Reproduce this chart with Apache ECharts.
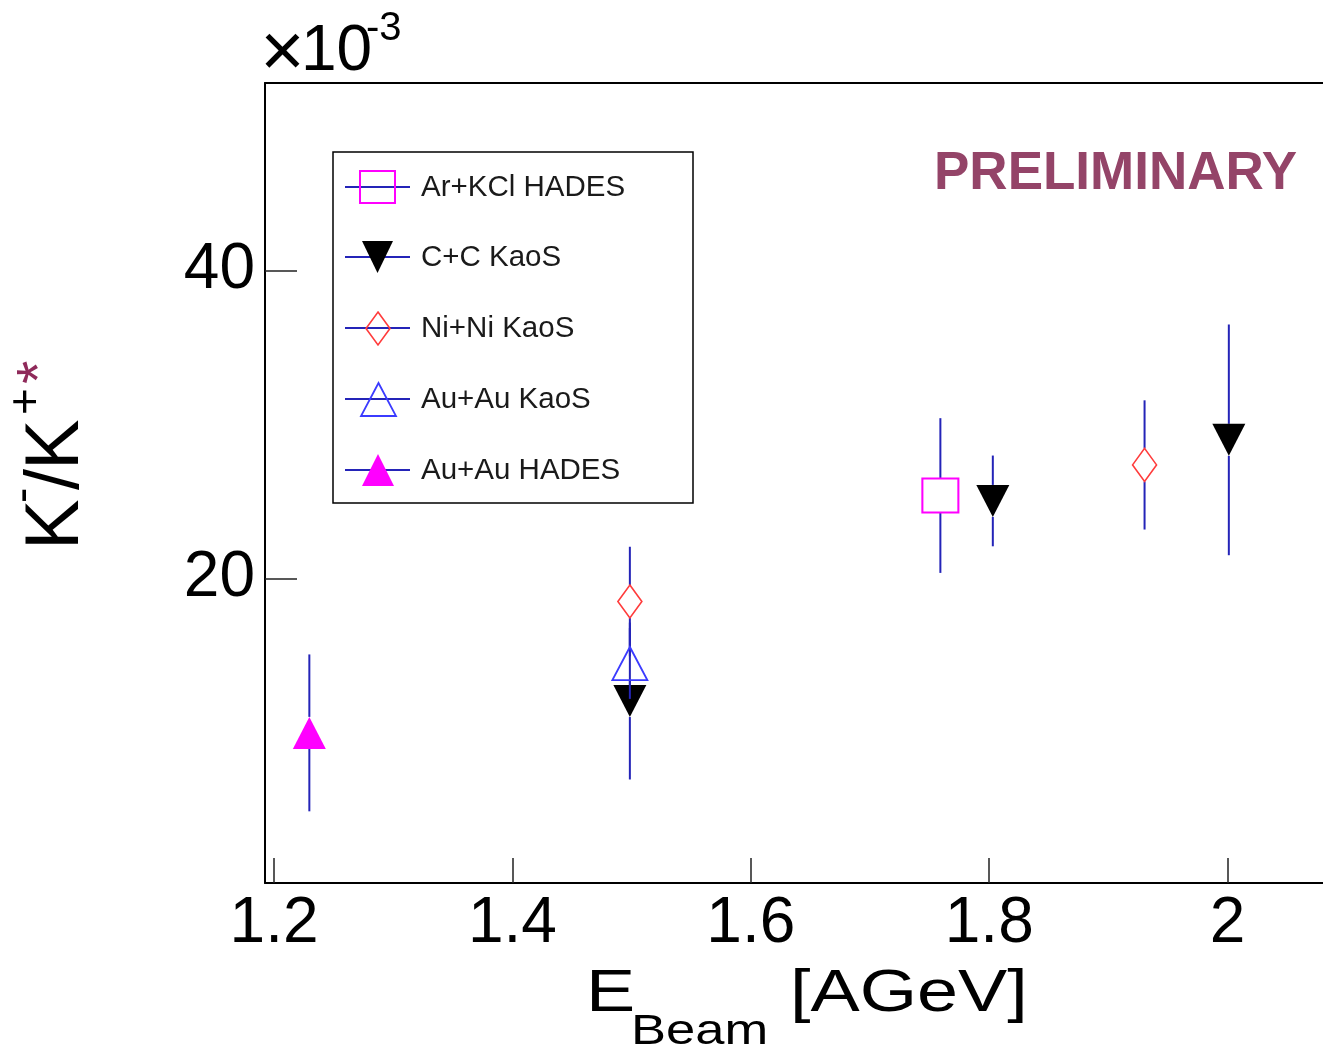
<!DOCTYPE html>
<html><head><meta charset="utf-8">
<script src="https://cdn.jsdelivr.net/npm/echarts@6/dist/echarts.min.js"></script>
<style>html,body{margin:0;padding:0;background:#fff}#c{width:1323px;height:1050px}</style>
</head><body><div id="c"></div>
<script>
// ---- data: [E_beam (AGeV), K-/K+ (x1e-3), error] ----
const seriesNames = ['Ar+KCl HADES', 'C+C KaoS', 'Ni+Ni KaoS', 'Au+Au KaoS', 'Au+Au HADES'];
const arKclHades = [[1.759, 25.38, 5.03]];
const ccKaos     = [[1.4985, 12.02, 5.1], [1.803, 25.03, 2.95], [2.001, 29.0, 7.5]];
const niNiKaos   = [[1.4985, 18.49, 3.56], [1.9303, 27.37, 4.2]];
const auAuKaos   = [[1.4985, 14.46, 2.3]];
const auAuHades  = [[1.2296, 9.95, 5.1]];
const xTickValues = [1.2, 1.4, 1.6, 1.8, 2.0];
const yTickValues = [20, 40];

const FONT = "'Liberation Sans', Arial, Helvetica, sans-serif";
const ERR = '#2424b8';
const X_MIN = 1.1924, X_MAX = 2.0800, Y_MIN = 0.19, Y_MAX = 52.2;

const styles = [
  {data: arKclHades, symbol: 'rect', size: [36, 34], rot: 0, item: {color: 'rgba(0,0,0,0)', borderColor: '#ff00ff', borderWidth: 2, opacity: 1}},
  {data: ccKaos, symbol: 'triangle', size: [33, 32], rot: 180, item: {color: '#000', opacity: 1}},
  {data: niNiKaos, symbol: 'diamond', size: [24, 33], rot: 0, item: {color: 'rgba(0,0,0,0)', borderColor: '#ff3b3b', borderWidth: 1.6, opacity: 1}},
  {data: auAuKaos, symbol: 'triangle', size: [35, 33], rot: 0, item: {color: 'rgba(0,0,0,0)', borderColor: '#3b3bff', borderWidth: 1.8, opacity: 1}},
  {data: auAuHades, symbol: 'triangle', size: [33, 32], rot: 0, item: {color: '#ff00ff', opacity: 1}}
];

const series = [];
styles.forEach((s, i) => {
  const gap = s.size[1] / 2;
  series.push({
    type: 'custom', name: seriesNames[i] + ' err', z: 2 + 2 * i, silent: true,
    data: s.data.map(d => [d[0], d[1], d[1] - d[2], d[1] + d[2]]),
    encode: {x: 0, y: [1, 2, 3]},
    renderItem(params, api) {
      const c = api.coord([api.value(0), api.value(1)]);
      const lo = api.coord([api.value(0), api.value(2)]);
      const hi = api.coord([api.value(0), api.value(3)]);
      return {type: 'group', children: [
        {type: 'line', shape: {x1: c[0], y1: hi[1], x2: c[0], y2: c[1] - gap}, style: {stroke: ERR, lineWidth: 2}},
        {type: 'line', shape: {x1: c[0], y1: c[1] + gap, x2: c[0], y2: lo[1]}, style: {stroke: ERR, lineWidth: 2}}
      ]};
    }
  });
  series.push({
    type: 'scatter', name: seriesNames[i], z: 3 + 2 * i, silent: true,
    data: s.data.map(d => [d[0], d[1]]),
    symbol: s.symbol, symbolSize: s.size, symbolRotate: s.rot,
    itemStyle: s.item,
    emphasis: {disabled: true}
  });
});

// ---- legend (drawn as graphic) ----
const legRowY = [187, 257, 328, 399, 470];
const legMarkers = [
  {type: 'rect', shape: {x: 360, y: 171, width: 35, height: 32}, style: {fill: 'none', stroke: '#ff00ff', lineWidth: 2}},
  {type: 'polygon', shape: {points: [[362, 241], [393, 241], [377.5, 273]]}, style: {fill: '#000'}},
  {type: 'polygon', shape: {points: [[378, 312], [390, 328.5], [378, 345], [366, 328.5]]}, style: {fill: 'none', stroke: '#ff3b3b', lineWidth: 1.6}},
  {type: 'polygon', shape: {points: [[378.5, 383], [396, 416], [361, 416]]}, style: {fill: 'none', stroke: '#3b3bff', lineWidth: 1.8}},
  {type: 'polygon', shape: {points: [[378, 454], [394, 486], [362, 486]]}, style: {fill: '#ff00ff'}}
];
const legendEls = [{type: 'rect', shape: {x: 333, y: 152, width: 360, height: 351}, style: {fill: '#fff', stroke: '#000', lineWidth: 1.5}}];
legRowY.forEach((y, i) => {
  legendEls.push({type: 'line', shape: {x1: 345, y1: y, x2: 410, y2: y}, style: {stroke: ERR, lineWidth: 2}});
  legendEls.push(legMarkers[i]);
  legendEls.push({type: 'text', x: 421, y: y + 1, style: {text: seriesNames[i], font: '29.5px ' + FONT, fill: '#1a1a1a', align: 'left', verticalAlign: 'middle', textAlign: 'left', textVerticalAlign: 'middle'}});
});

function txt(x, y, text, size, opts) {
  opts = opts || {};
  return Object.assign({type: 'text', x: x, y: y, style: {text: text, font: (opts.weight || 'normal') + ' ' + size + 'px ' + FONT, fill: opts.fill || '#000', align: opts.align || 'left', verticalAlign: 'middle', textAlign: opts.align || 'left', textVerticalAlign: 'middle'}}, opts.el || {});
}

const graphic = [
  {type: 'group', children: legendEls, z: 50},
  txt(282.5, 55, '\u00d7', 76, {align: 'center'}),
  txt(301, 52, '10', 64),
  txt(366, 29, '-3', 40),
  txt(934, 174, 'PRELIMINARY', 53, {weight: 'bold', fill: '#944468'}),
  // x title
  txt(586, 995, 'E', 59, {el: {scaleX: 1.25}}),
  txt(631, 1032, 'Beam', 42, {el: {scaleX: 1.25}}),
  txt(790, 995, '[AGeV]', 59, {el: {scaleX: 1.25}}),
  // y title (rotated)
  {type: 'group', x: 57.5, y: 550, rotation: Math.PI / 2, children: [
    txt(0, 0, 'K', 76),
    txt(47, -33, '-', 46),
    txt(60, 0, '/', 76),
    txt(80, 0, 'K', 76),
    txt(135, -30, '+', 46),
    txt(166, -16, '*', 60, {fill: '#8f2a5a'})
  ]}
];

const chart = echarts.init(document.getElementById('c'), null, {renderer: 'canvas'});
chart.setOption({
  animation: false,
  backgroundColor: '#fff',
  grid: {left: 265, top: 83, right: 0, height: 800, containLabel: false},
  xAxis: [{
    type: 'value', min: X_MIN, max: X_MAX, position: 'bottom',
    axisLine: {show: true, onZero: false, lineStyle: {color: '#000', width: 2}},
    axisTick: {show: true, inside: true, length: 25, customValues: xTickValues, lineStyle: {color: '#222', width: 1.5}},
    axisLabel: {show: true, customValues: xTickValues, margin: 9, fontSize: 64, fontFamily: FONT, color: '#000',
      formatter: v => (Math.round(v * 10) / 10).toString()},
    splitLine: {show: false}
  }, {
    type: 'value', min: X_MIN, max: X_MAX, position: 'top',
    axisLine: {show: true, onZero: false, lineStyle: {color: '#000', width: 2}},
    axisTick: {show: false}, axisLabel: {show: false}, splitLine: {show: false}
  }],
  yAxis: [{
    type: 'value', min: Y_MIN, max: Y_MAX,
    axisLine: {show: true, onZero: false, lineStyle: {color: '#000', width: 2}},
    axisTick: {show: true, inside: true, length: 32, customValues: yTickValues, lineStyle: {color: '#222', width: 1.5}},
    axisLabel: {show: true, customValues: yTickValues, margin: 10, fontSize: 64, fontFamily: FONT, color: '#000'},
    splitLine: {show: false}
  }],
  series: series,
  graphic: graphic
});
</script>
</body></html>
